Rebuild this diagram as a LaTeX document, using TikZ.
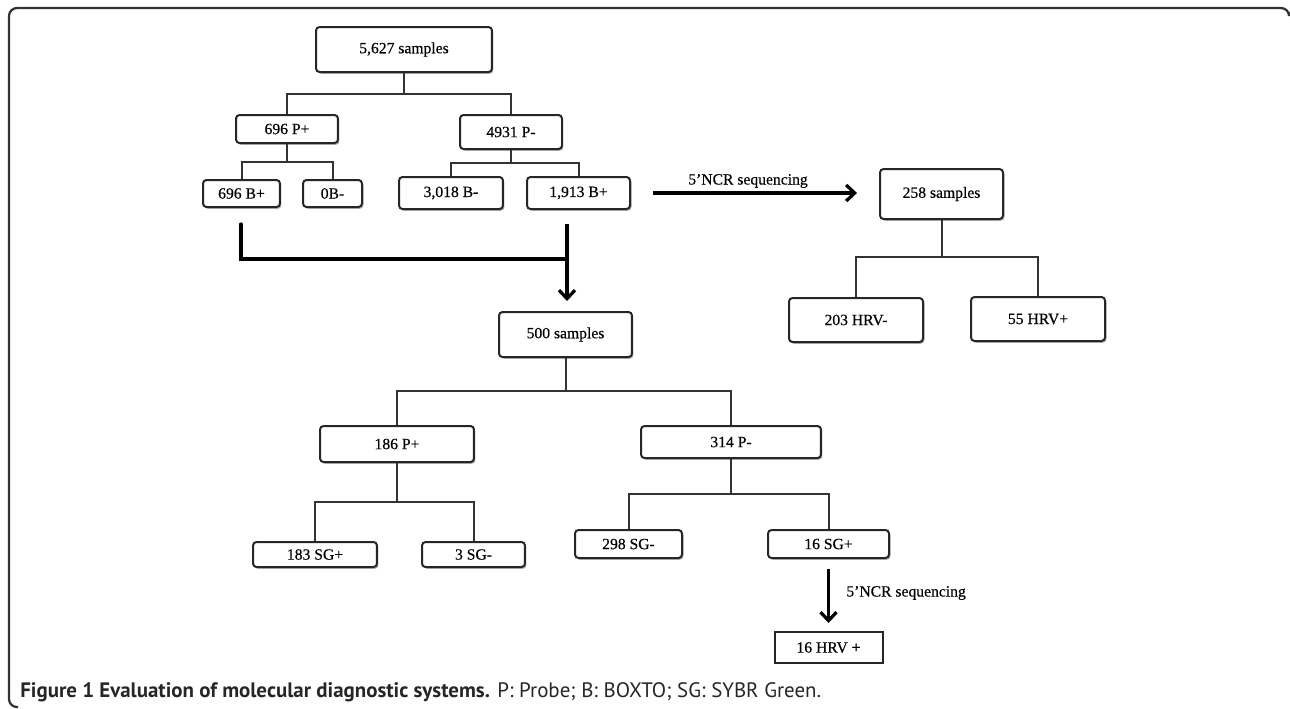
\documentclass[tikz,border=0pt]{standalone}
\usepackage{fontspec}
\setmainfont{Liberation Serif}
\newfontfamily\boxfam[FakeBold=0.35]{Liberation Serif}
\newfontfamily\capfont{PT Sans}
\usetikzlibrary{arrows.meta,shadows,calc}
\tikzset{
  boxfont/.style={font=\boxfam\fontsize{8.9pt}{10pt}\selectfont},
  box/.style={draw=black!85, line width=0.04cm, rounded corners=0.07cm, fill=white,
    inner sep=0pt, boxfont,
    drop shadow={shadow xshift=0.03cm, shadow yshift=-0.035cm, opacity=0.3, fill=black}},
  sharpbox/.style={draw=black!85, line width=0.04cm, fill=white, inner sep=0pt, boxfont},
  link/.style={draw=black!80, line width=0.04cm},
  bigline/.style={draw=black, line width=0.065cm},
  bigarrow/.style={draw=black, line width=0.065cm, -{Straight Barb[length=0.17cm,width=0.32cm]}},
  lbl/.style={boxfont, inner sep=0pt},
}
\begin{document}
\begin{tikzpicture}[x=0.02cm, y=-0.02cm]
\useasboundingbox (0,0) rectangle (1290,708);
% frame
\draw[line width=0.045cm, black!80, rounded corners=0.16cm] (1289,12) -- (1289,8) -- (9,8) -- (9,707) -- (18,707);

% top tree
\node[box, minimum width=3.52cm, minimum height=0.9cm] (n5627) at (404,49.5) {5,627 samples};
\node[box, minimum width=2.04cm, minimum height=0.56cm] (p696) at (287,129) {696 P+};
\node[box, minimum width=2.04cm, minimum height=0.68cm] (p4931) at (511,132) {4931 P-};
\node[box, minimum width=1.54cm, minimum height=0.54cm] (b696) at (241.5,193.5) {696 B+};
\node[box, minimum width=1.18cm, minimum height=0.54cm] (b0) at (332.5,193.5) {0B-};
\node[box, minimum width=2.08cm, minimum height=0.64cm] (b3018) at (451,193) {3,018 B-};
\node[box, minimum width=2.06cm, minimum height=0.64cm] (b1913) at (578.5,193) {1,913 B+};

\coordinate (barTop) at (404,94);
\coordinate (barP696) at (287,162);
\coordinate (barP4931) at (511,163);
\draw[link] (n5627.south) -- (barTop);
\draw[link] (p696.north) |- (barTop) -| (p4931.north);
\draw[link] (p696.south) -- (barP696);
\draw[link] (b696.north) |- (barP696) -| (b0.north);
\draw[link] (p4931.south) -- (barP4931);
\draw[link] (b3018.north) |- (barP4931) -| (b1913.north);

% right tree
\node[box, minimum width=2.46cm, minimum height=1.0cm] (s258) at (941.5,194) {258 samples};
\node[box, minimum width=2.68cm, minimum height=0.88cm] (hrv203) at (856,320) {203 HRV-};
\node[box, minimum width=2.68cm, minimum height=0.88cm] (hrv55) at (1038,319) {55 HRV+};
\coordinate (bar258) at (941.5,257);
\draw[link] (s258.south) -- (bar258);
\draw[link] (hrv203.north) |- (bar258) -| (hrv55.north);

\draw[bigarrow, shorten <=0.44cm, shorten >=0.44cm] (b1913.east) -- (b1913.east -| s258.west);
\node[lbl] (seq1) at (748,181) {5’NCR sequencing};

% merge to 500 samples
\node[box, minimum width=2.66cm, minimum height=0.9cm] (s500) at (565.5,334.5) {500 samples};
\coordinate (jl) at (241,224);
\coordinate (jr) at (567,224);
\coordinate (jm) at (567,259);
\draw[bigline, line cap=round] (jl) |- (jm);
\draw[bigarrow, shorten >=0.2cm] (jr) -- (jr |- s500.north);

% lower tree
\node[box, minimum width=3.08cm, minimum height=0.72cm] (p186) at (397,444) {186 P+};
\node[box, minimum width=3.6cm, minimum height=0.64cm] (p314) at (731,442) {314 P-};
\coordinate (bar500) at (565.5,391);
\draw[link] (s500.south) -- (bar500);
\draw[link] (p186.north) |- (bar500) -| (p314.north);

\node[box, minimum width=2.48cm, minimum height=0.5cm] (sg183) at (315,554.5) {183 SG+};
\node[box, minimum width=2.06cm, minimum height=0.5cm] (sg3) at (473.5,554.5) {3 SG-};
\coordinate (bar186) at (397,502);
\draw[link] (p186.south) -- (bar186);
\draw[link] (sg183.north) |- (bar186) -| (sg3.north);

\node[box, minimum width=2.14cm, minimum height=0.56cm] (sg298) at (628.5,544) {298 SG-};
\node[box, minimum width=2.42cm, minimum height=0.56cm] (sg16) at (828.5,544) {16 SG+};
\coordinate (bar314) at (731,494);
\draw[link] (p314.south) -- (bar314);
\draw[link] (sg298.north) |- (bar314) -| (sg16.north);

\node[sharpbox, minimum width=2.16cm, minimum height=0.62cm] (hrv16) at (828.5,647.5) {16 HRV +};
\draw[bigarrow, shorten <=0.2cm, shorten >=0.16cm] (sg16.south) -- (hrv16.north);
\node[lbl, anchor=west] (seq2) at (846,593) {5’NCR sequencing};

% caption
\node[anchor=base west, inner sep=0pt, font=\capfont\fontsize{11.9pt}{14pt}\selectfont, text=black!85] (cap) at (20,697)
  {\textbf{Figure 1 Evaluation of molecular diagnostic systems.} P: Probe; B: BOXTO; SG: SYBR Green.};
\end{tikzpicture}
\end{document}
